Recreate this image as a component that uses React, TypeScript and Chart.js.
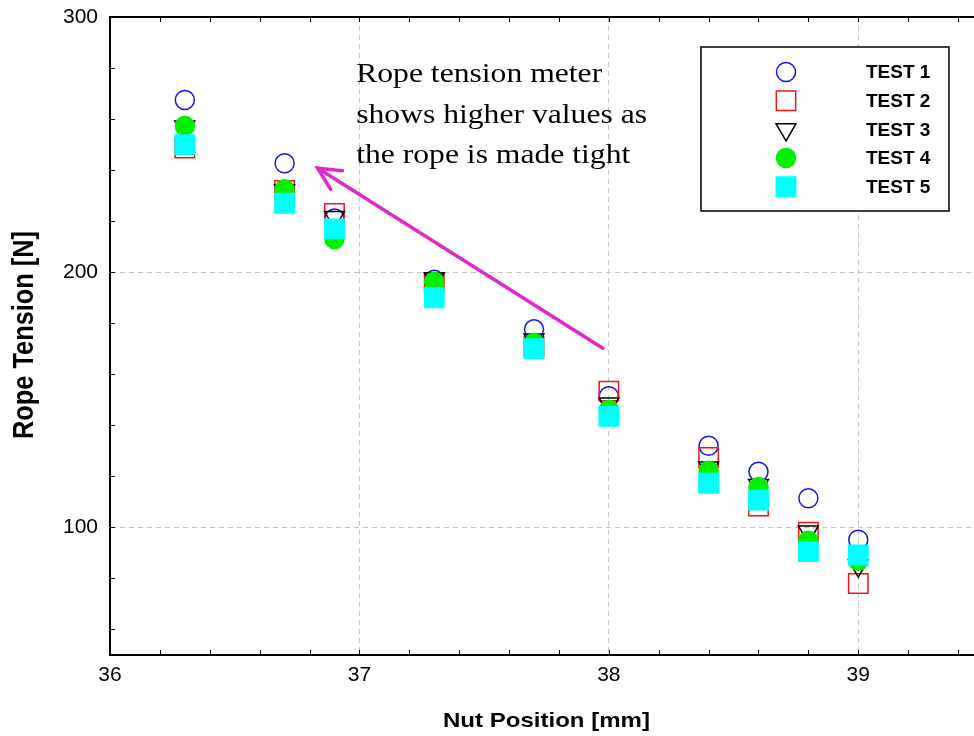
import React, { useEffect, useRef } from 'react';
import { Chart, registerables } from 'chart.js';

Chart.register(...registerables);

// ---------- data ----------
const nutPosition = [36.3, 36.7, 36.9, 37.3, 37.7, 38.0, 38.4, 38.6, 38.8, 39.0];
const test1 = [267.5, 242.7, 221, 197, 177.6, 151.4, 132, 121.8, 111.4, 95.2];
const test2 = [248.6, 232, 223, 196, 170.8, 153.4, 127.4, 108.4, 98.1, 78];
const test3 = [257, 232, 221.5, 197.5, 173.5, 148.5, 123.4, 116.5, 98.3, 85];
const test4 = [257.3, 232.5, 213, 196.3, 172.3, 146, 122.2, 115.8, 94.8, 86.9];
const test5 = [250, 227, 217, 190, 170, 143.5, 117.3, 110.7, 90.5, 89.2];
const seriesNames = ['TEST 1', 'TEST 2', 'TEST 3', 'TEST 4', 'TEST 5'];

const xTickValues = [36, 37, 38, 39];
const yTickValues = [100, 200, 300];
const xMin = 36;
const xMax = 39.464;
const yMin = 50;
const yMax = 300;
const xMinorStep = 0.2;
const yMinorStep = 20;

const xTitle = 'Nut Position [mm]';
const yTitle = 'Rope Tension [N]';
const annotationLines = ['Rope tension meter', 'shows higher values as', 'the rope is made tight'];
const annotationAnchor = { x: 36.987, y: 274.5 };
const arrowTail = { x: 37.976, y: 170.2 };
const arrowTip = { x: 36.832, y: 240.8 };

// ---------- styles ----------
const SANS = '"Liberation Sans", Arial, Helvetica, sans-serif';
const SERIF = '"Liberation Serif", "Times New Roman", Times, serif';
const MAGENTA = '#E228C8';

const seriesStyles = [
  { pointStyle: 'circle', radius: 9.5, fill: 'rgba(0,0,0,0)', stroke: '#1414F0', rotation: 0 },
  { pointStyle: 'rect', radius: 13.7, fill: 'rgba(0,0,0,0)', stroke: '#F01414', rotation: 0 },
  { pointStyle: 'triangle', radius: 11.5, fill: 'rgba(0,0,0,0)', stroke: '#000000', rotation: 180 },
  { pointStyle: 'circle', radius: 9.5, fill: '#00F000', stroke: '#00F000', rotation: 0 },
  { pointStyle: 'rect', radius: 13.7, fill: '#00FFFF', stroke: '#00FFFF', rotation: 0 },
];

function drawMarker(ctx: CanvasRenderingContext2D, s: any, x: number, y: number) {
  ctx.save();
  ctx.fillStyle = s.fill;
  ctx.strokeStyle = s.stroke;
  ctx.lineWidth = 1.5;
  ctx.beginPath();
  if (s.pointStyle === 'circle') {
    ctx.arc(x, y, s.radius, 0, Math.PI * 2);
  } else if (s.pointStyle === 'rect') {
    const h = s.radius * Math.SQRT1_2;
    ctx.rect(x - h, y - h, 2 * h, 2 * h);
  } else if (s.pointStyle === 'triangle') {
    let rad = (s.rotation * Math.PI) / 180;
    const r = s.radius;
    ctx.moveTo(x + Math.sin(rad) * r, y - Math.cos(rad) * r);
    rad += (2 * Math.PI) / 3;
    ctx.lineTo(x + Math.sin(rad) * r, y - Math.cos(rad) * r);
    rad += (2 * Math.PI) / 3;
    ctx.lineTo(x + Math.sin(rad) * r, y - Math.cos(rad) * r);
    ctx.closePath();
  }
  ctx.fill();
  ctx.stroke();
  ctx.restore();
}

const decorPlugin = {
  id: 'decor',
  beforeDatasetsDraw(chart: any) {
    const { ctx, chartArea: a, scales } = chart;
    const xs = scales.x;
    const ys = scales.y;
    ctx.save();
    ctx.strokeStyle = '#000';
    ctx.lineWidth = 1;
    ctx.beginPath();
    for (let i = 1; xMin + i * xMinorStep < xMax; i++) {
      const px = Math.round(xs.getPixelForValue(xMin + i * xMinorStep)) + 0.5;
      ctx.moveTo(px, a.bottom);
      ctx.lineTo(px, a.bottom - 5);
      ctx.moveTo(px, a.top);
      ctx.lineTo(px, a.top + 5);
    }
    const firstMinor = Math.ceil(yMin / yMinorStep) * yMinorStep;
    for (let v = firstMinor; v < yMax; v += yMinorStep) {
      if (v <= yMin) continue;
      const py = Math.round(ys.getPixelForValue(v)) + 0.5;
      ctx.moveTo(a.left, py);
      ctx.lineTo(a.left + 5, py);
    }
    ctx.stroke();
    // top frame line
    ctx.lineWidth = 2;
    ctx.beginPath();
    ctx.moveTo(a.left - 1, a.top);
    ctx.lineTo(a.right, a.top);
    ctx.stroke();
    ctx.restore();
  },
  afterDraw(chart: any) {
    const { ctx, scales, chartArea: a } = chart;
    const xs = scales.x;
    const ys = scales.y;

    // arrow
    const tx = xs.getPixelForValue(arrowTail.x);
    const ty = ys.getPixelForValue(arrowTail.y);
    const hx = xs.getPixelForValue(arrowTip.x);
    const hy = ys.getPixelForValue(arrowTip.y);
    const ang = Math.atan2(ty - hy, tx - hx);
    const armLen = 25;
    const spread = (26 * Math.PI) / 180;
    ctx.save();
    ctx.strokeStyle = MAGENTA;
    ctx.lineWidth = 3.5;
    ctx.lineCap = 'round';
    ctx.beginPath();
    ctx.moveTo(tx, ty);
    ctx.lineTo(hx, hy);
    ctx.moveTo(hx + Math.cos(ang - spread) * armLen, hy + Math.sin(ang - spread) * armLen);
    ctx.lineTo(hx, hy);
    ctx.lineTo(hx + Math.cos(ang + spread) * armLen, hy + Math.sin(ang + spread) * armLen);
    ctx.stroke();
    ctx.restore();

    // annotation text
    const ax = xs.getPixelForValue(annotationAnchor.x);
    const ay = ys.getPixelForValue(annotationAnchor.y);
    ctx.save();
    ctx.font = `28px ${SERIF}`;
    ctx.fillStyle = '#000';
    ctx.textBaseline = 'alphabetic';
    ctx.textAlign = 'left';
    const sx = 246 / ctx.measureText(annotationLines[0]).width;
    annotationLines.forEach((line, i) => {
      ctx.save();
      ctx.translate(ax, ay + i * 40.5);
      ctx.scale(sx, 1);
      ctx.fillText(line, 0, 0);
      ctx.restore();
    });
    ctx.restore();

    // legend
    const L = { left: 701, top: 47, width: 248, height: 164, markerX: 786, textX: 866, rowY: 72, rowStep: 28.7 };
    ctx.save();
    ctx.fillStyle = '#fff';
    ctx.fillRect(L.left, L.top, L.width, L.height);
    ctx.strokeStyle = '#000';
    ctx.lineWidth = 1.5;
    ctx.strokeRect(L.left, L.top, L.width, L.height);
    ctx.font = `bold 19px ${SANS}`;
    ctx.fillStyle = '#000';
    ctx.textBaseline = 'middle';
    ctx.textAlign = 'left';
    seriesNames.forEach((name, i) => {
      const y = L.rowY + i * L.rowStep;
      drawMarker(ctx, seriesStyles[i], L.markerX, y);
      ctx.fillStyle = '#000';
      ctx.fillText(name, L.textX, y + 1);
    });
    ctx.restore();

    // y title (stretched like the original)
    ctx.save();
    ctx.font = `bold 30px ${SANS}`;
    ctx.fillStyle = '#000';
    ctx.textAlign = 'center';
    ctx.textBaseline = 'middle';
    const w = ctx.measureText(yTitle).width;
    ctx.translate(25, (a.top + a.bottom) / 2 - 1);
    ctx.rotate(-Math.PI / 2);
    ctx.scale(208 / w, 1);
    ctx.fillText(yTitle, 0, 0);
    ctx.restore();

    // x title (slightly widened like the original)
    ctx.save();
    ctx.font = `bold 21px ${SANS}`;
    ctx.fillStyle = '#000';
    ctx.textAlign = 'center';
    ctx.textBaseline = 'alphabetic';
    const wx = ctx.measureText(xTitle).width;
    ctx.translate((a.left + a.right) / 2 + 4.5, 727);
    ctx.scale(207 / wx, 1);
    ctx.fillText(xTitle, 0, 0);
    ctx.restore();
  },
};

export default function App() {
  const canvasRef = useRef<HTMLCanvasElement | null>(null);

  useEffect(() => {
    const canvas = canvasRef.current;
    if (!canvas) return;
    const series = [test1, test2, test3, test4, test5];
    const datasets = series.map((vals, i) => {
      const s = seriesStyles[i];
      return {
        label: seriesNames[i],
        data: nutPosition.map((x, j) => ({ x, y: vals[j] })),
        showLine: false,
        pointStyle: s.pointStyle,
        pointRadius: s.radius,
        pointRotation: s.rotation,
        pointBackgroundColor: s.fill,
        pointBorderColor: s.stroke,
        pointBorderWidth: 1.5,
        order: 5 - i,
        clip: false,
      };
    });
    const chart = new Chart(canvas, {
      type: 'scatter',
      data: { datasets } as any,
      options: {
        animation: false,
        responsive: false,
        maintainAspectRatio: false,
        events: [],
        layout: { autoPadding: false, padding: { top: 17, right: 0, left: 0, bottom: 0 } },
        plugins: {
          legend: { display: false },
          tooltip: { enabled: false },
          title: { display: false },
        },
        scales: {
          x: {
            type: 'linear',
            min: xMin,
            max: xMax,
            afterBuildTicks: (s: any) => {
              s.ticks = xTickValues.map((v) => ({ value: v }));
            },
            afterFit: (s: any) => {
              s.height = 81;
              s.paddingLeft = 0;
              s.paddingRight = 0;
            },
            grid: {
              drawTicks: false,
              lineWidth: 1,
              color: (c: any) => (c.tick && c.tick.value === xMin ? 'rgba(0,0,0,0)' : '#C4C4C4'),
            },
            border: { display: true, color: '#000', width: 2, dash: [5, 4] },
            ticks: {
              color: '#000',
              font: { family: SANS, size: 21 },
              padding: 8,
              maxRotation: 0,
              autoSkip: false,
            },
            title: { display: false },
          },
          y: {
            type: 'linear',
            min: yMin,
            max: yMax,
            afterBuildTicks: (s: any) => {
              s.ticks = yTickValues.map((v) => ({ value: v }));
            },
            afterFit: (s: any) => {
              s.width = 110;
              s.paddingTop = 0;
              s.paddingBottom = 0;
            },
            grid: {
              drawTicks: false,
              lineWidth: 1,
              color: (c: any) => (c.tick && c.tick.value === yMax ? 'rgba(0,0,0,0)' : '#C4C4C4'),
            },
            border: { display: true, color: '#000', width: 2, dash: [5, 4] },
            ticks: {
              color: '#000',
              font: { family: SANS, size: 21 },
              padding: 12,
              autoSkip: false,
            },
          },
        },
      } as any,
      plugins: [decorPlugin],
    });
    return () => chart.destroy();
  }, []);

  return (
    <div style={{ position: 'absolute', left: 0, top: 0, width: 974, height: 736, background: '#fff' }}>
      <canvas ref={canvasRef} width={974} height={736} style={{ display: 'block' }} />
    </div>
  );
}
